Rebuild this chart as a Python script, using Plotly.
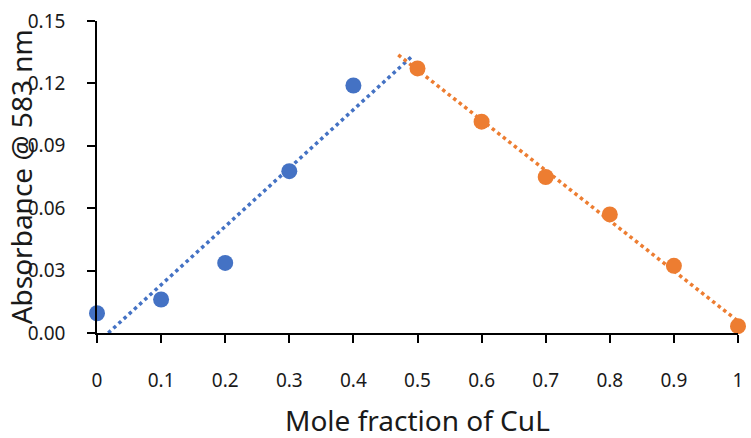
import numpy as np
import plotly.graph_objects as go

# Data
x_blue = [0.0, 0.1, 0.2, 0.3, 0.4]
y_blue = [0.0095, 0.0161, 0.0337, 0.0778, 0.1190]
x_orange = [0.5, 0.6, 0.7, 0.8, 0.9, 1.0]
y_orange = [0.1272, 0.1016, 0.0750, 0.0570, 0.0323, 0.0033]
x_ticks = [0, 0.1, 0.2, 0.3, 0.4, 0.5, 0.6, 0.7, 0.8, 0.9, 1]
x_ticklabels = ["0", "0.1", "0.2", "0.3", "0.4", "0.5", "0.6", "0.7", "0.8", "0.9", "1"]
y_ticks = [0, 0.03, 0.06, 0.09, 0.12, 0.15]

BLUE = "#4472C4"
ORANGE = "#ED7D31"
FONT = "Noto Sans"
TXT = "#1a1a1a"

# Linear trendlines (least squares fit)
mb, cb = np.polyfit(x_blue, y_blue, 1)
mo, co = np.polyfit(x_orange, y_orange, 1)
xb_start = -cb / mb  # where trend crosses zero
xb_line = np.array([xb_start, 0.49])
xo_line = np.array([0.47, 1.0])

fig = go.Figure()
fig.add_trace(go.Scatter(x=xb_line, y=mb * xb_line + cb, mode="lines",
                         line=dict(color=BLUE, width=3.5, dash="dot"),
                         cliponaxis=False, showlegend=False))
fig.add_trace(go.Scatter(x=xo_line, y=mo * xo_line + co, mode="lines",
                         line=dict(color=ORANGE, width=3.5, dash="dot"),
                         cliponaxis=False, showlegend=False))
fig.add_trace(go.Scatter(x=x_blue, y=y_blue, mode="markers",
                         marker=dict(color=BLUE, size=16),
                         cliponaxis=False, showlegend=False))
fig.add_trace(go.Scatter(x=x_orange, y=y_orange, mode="markers",
                         marker=dict(color=ORANGE, size=16),
                         cliponaxis=False, showlegend=False))

fig.update_layout(
    width=751, height=438,
    margin=dict(l=97, r=8, t=17, b=105),
    plot_bgcolor="white", paper_bgcolor="white",
    font=dict(family=FONT, color=TXT),
    xaxis=dict(range=[0, 1], tickvals=x_ticks, ticktext=x_ticklabels,
               showgrid=False, zeroline=False, showline=True,
               linecolor="black", linewidth=1.5,
               ticks="outside", ticklen=8, tickwidth=1.5, tickcolor="black",
               ticklabelstandoff=21,
               tickfont=dict(size=19, family=FONT, color=TXT)),
    yaxis=dict(range=[0, 0.15], tickvals=y_ticks, tickformat=".2f",
               showgrid=False, zeroline=False, showline=True,
               linecolor="black", linewidth=1.5,
               ticks="outside", ticklen=8, tickwidth=1.5, tickcolor="black",
               ticklabelstandoff=18,
               tickfont=dict(size=19, family=FONT, color=TXT)),
    annotations=[
        dict(text="Absorbance @ 583 nm", textangle=-90,
             xref="paper", yref="paper", x=-0.118, y=0.5,
             xanchor="center", yanchor="middle", showarrow=False,
             font=dict(size=28, family=FONT, color=TXT)),
        dict(text="Mole fraction of CuL",
             xref="paper", yref="paper", x=0.5, y=-0.28,
             xanchor="center", yanchor="middle", showarrow=False,
             font=dict(size=28, family=FONT, color=TXT)),
    ],
)

fig.write_html("out.html")
